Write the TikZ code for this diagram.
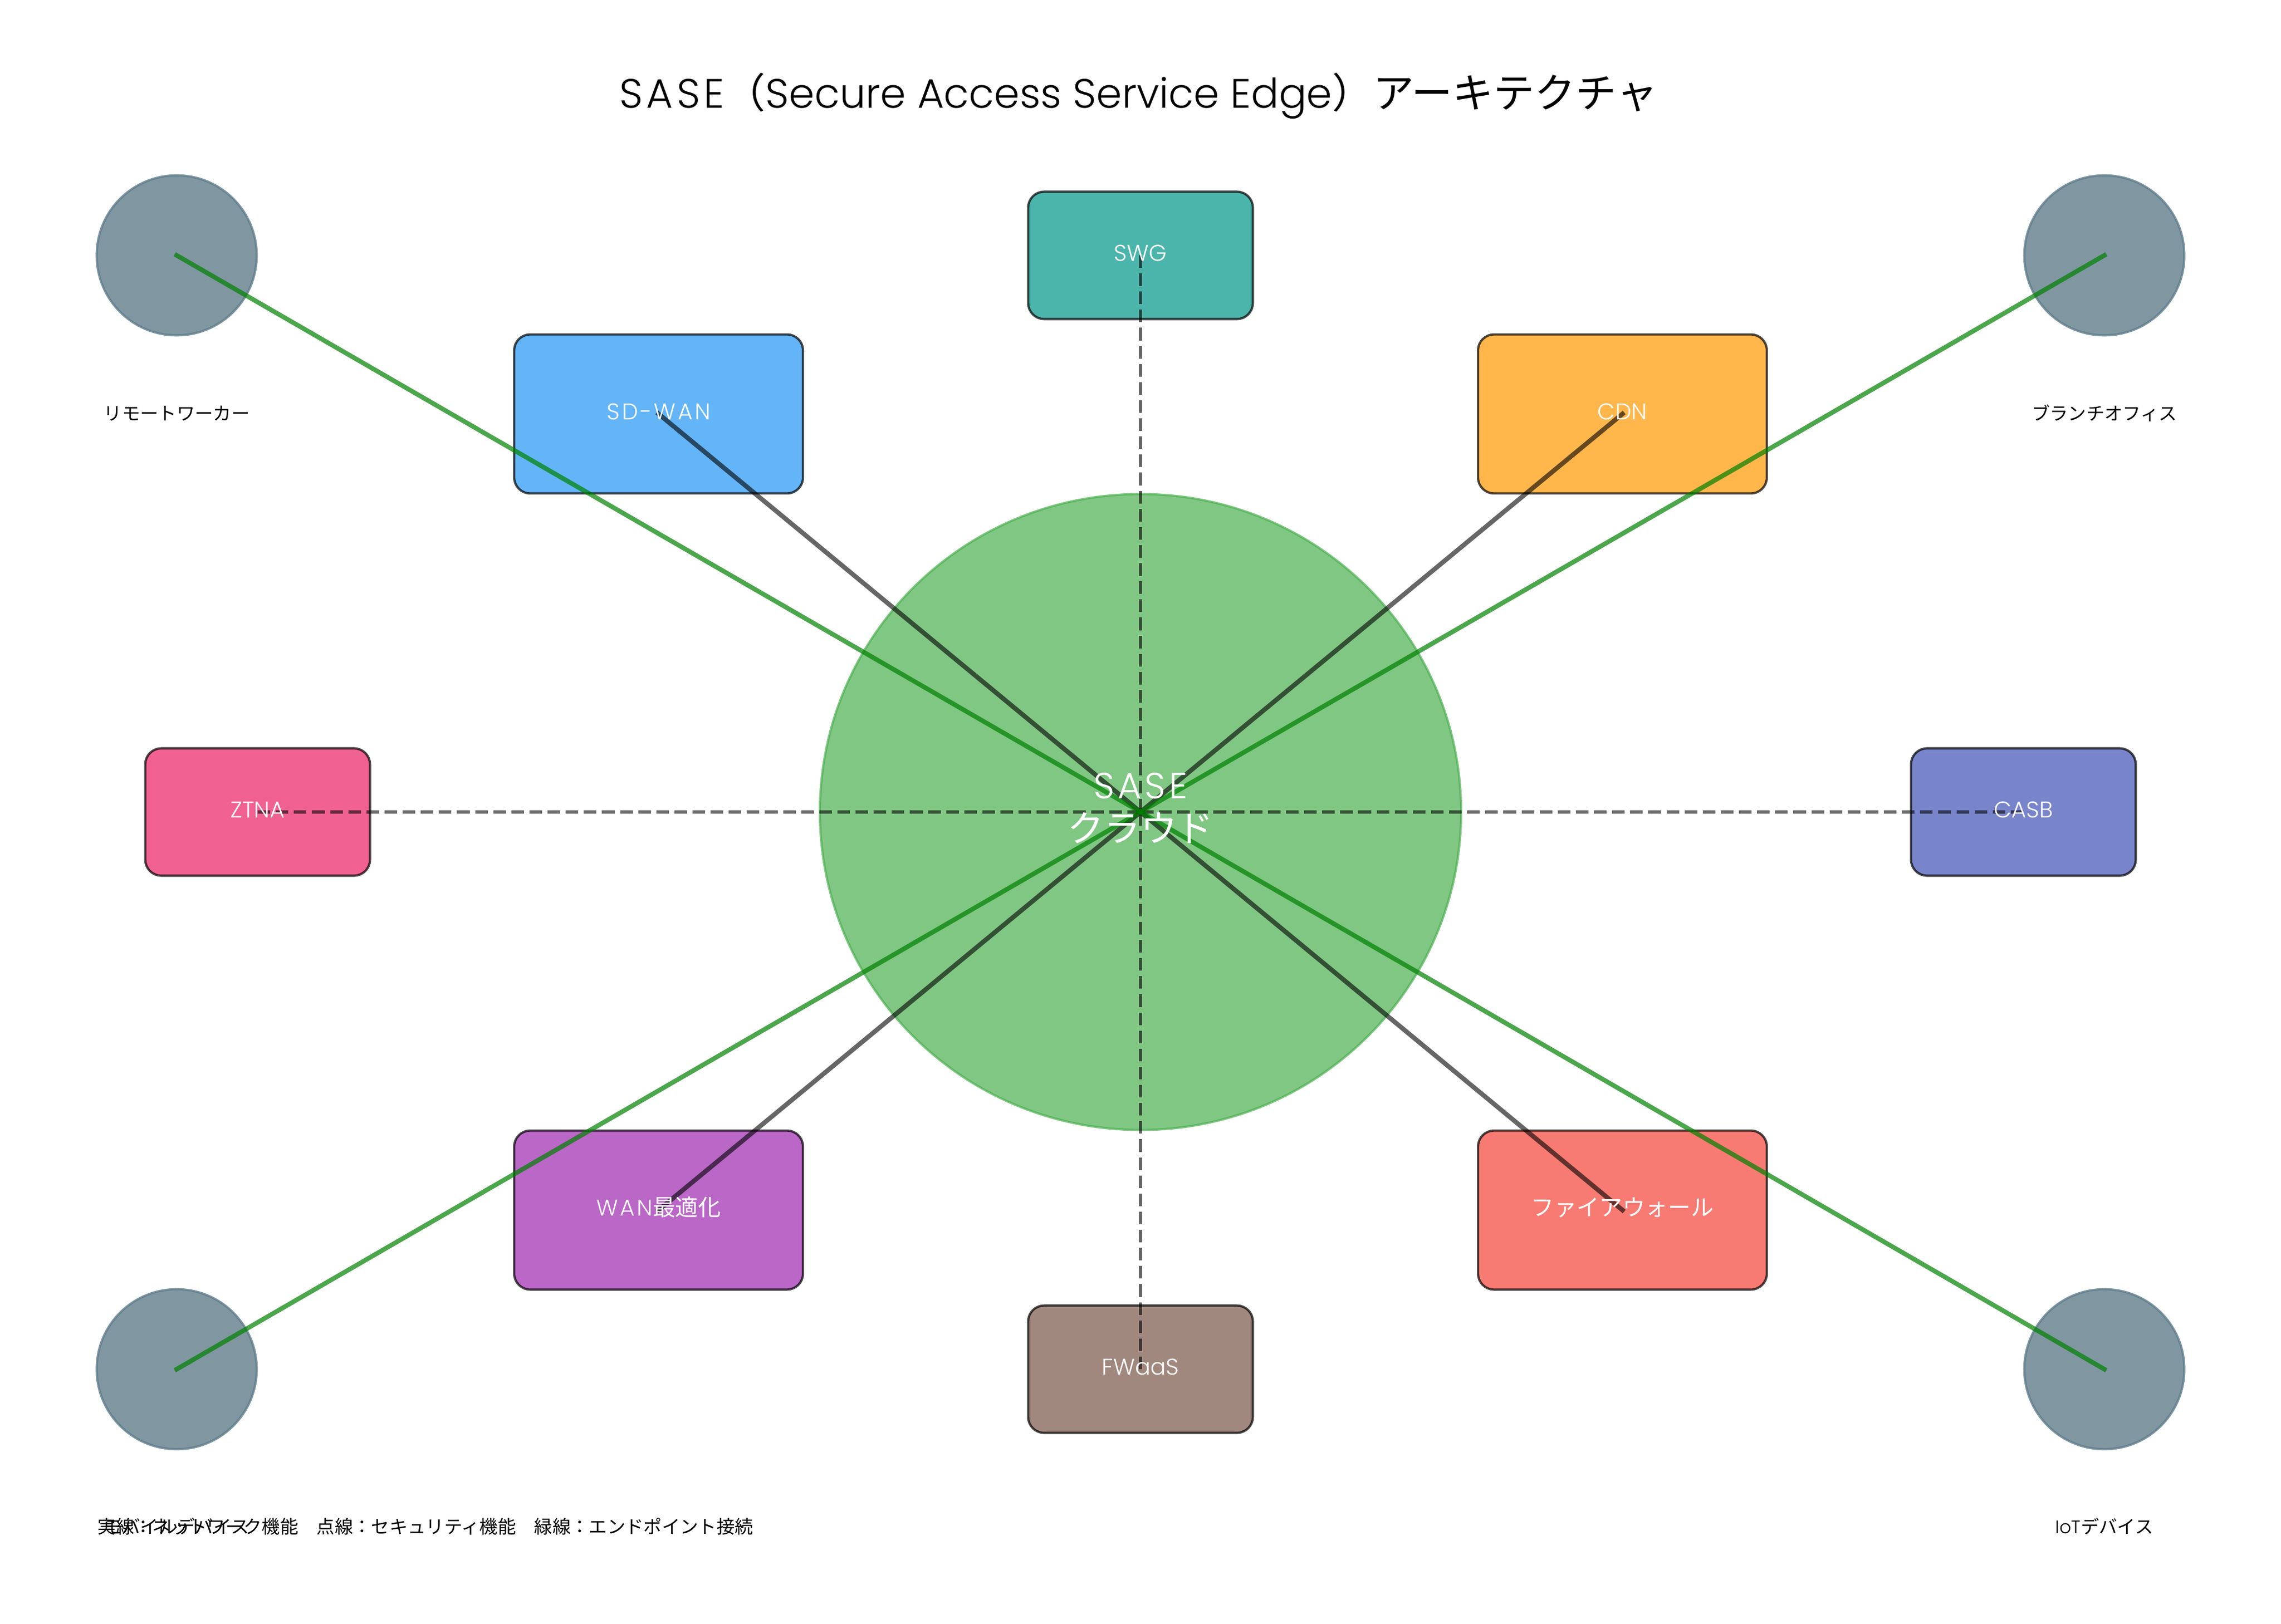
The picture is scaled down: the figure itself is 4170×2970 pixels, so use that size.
\documentclass[tikz,border=0pt]{standalone}
\usepackage{fontspec}
\setmainfont{Noto Sans CJK JP}
\newfontfamily\latinfont{Poppins Light}
\newfontfamily\capsfont{Poppins Light}[LetterSpace=9]
\usepackage{tikz}
\usetikzlibrary{shapes}
\usetikzlibrary{positioning}
\definecolor{swgcol}{HTML}{009688}
\definecolor{sdwancol}{HTML}{2196F3}
\definecolor{cdncol}{HTML}{FF9800}
\definecolor{ztnacol}{HTML}{E91E63}
\definecolor{casbcol}{HTML}{3F51B5}
\definecolor{wancol}{HTML}{9C27B0}
\definecolor{fwcol}{HTML}{F44336}
\definecolor{fwaascol}{HTML}{795548}
\definecolor{cloudcol}{HTML}{4CAF50}
\definecolor{endcol}{HTML}{607D8B}
\definecolor{linkcol}{HTML}{008000}
\tikzset{
  box/.style={rectangle,rounded corners=7pt,inner sep=0pt,draw=black,line width=1pt,draw opacity=.7,fill opacity=.7},
  smallbox/.style={box,minimum width=98.6pt,minimum height=55.9pt},
  bigbox/.style={box,minimum width=126.7pt,minimum height=69.8pt},
  endpoint/.style={circle,inner sep=0pt,minimum size=70.2pt,fill=endcol,draw=endcol,line width=1pt,fill opacity=.8,draw opacity=.8},
  netline/.style={draw=black,draw opacity=.6,line width=2pt,line cap=rect},
  secline/.style={draw=black,draw opacity=.6,line width=1.5pt,dash pattern=on 5.55pt off 2.4pt},
  endline/.style={draw=linkcol,draw opacity=.7,line width=2pt,line cap=rect},
  boxlabel/.style={text=white,inner sep=0pt,text height=.8em,text depth=.1em,yshift=1pt,font=\fontsize{10}{12}\selectfont},
  endlabel/.style={inner sep=0pt,text height=.8em,text depth=.1em,font=\fontsize{8}{10}\selectfont}
}
\begin{document}
\begin{tikzpicture}[x=.24pt,y=-.24pt]
\useasboundingbox (0,0) rectangle (4170,2970);
\node[ellipse,inner sep=0pt,minimum width=281.3pt,minimum height=279.1pt,fill=cloudcol,draw=cloudcol,line width=1pt,fill opacity=.7,draw opacity=.7] (cloud) at (2085,1485) {};
\node[smallbox,fill=swgcol] (swg) at (2085,467) {};
\node[bigbox,fill=sdwancol] (sdwan) at (1204,757) {};
\node[bigbox,fill=cdncol] (cdn) at (2966,757) {};
\node[smallbox,fill=ztnacol] (ztna) at (471,1485) {};
\node[smallbox,fill=casbcol] (casb) at (3699,1485) {};
\node[bigbox,fill=wancol] (wan) at (1204,2213) {};
\node[bigbox,fill=fwcol] (fw) at (2966,2213) {};
\node[smallbox,fill=fwaascol] (fwaas) at (2085,2504) {};
\node[endpoint] (remote) at (323,467) {};
\node[endpoint] (branch) at (3847,467) {};
\node[endpoint] (mobile) at (323,2504) {};
\node[endpoint] (iot) at (3847,2504) {};
\draw[netline] (sdwan.center) -- (cloud.center);
\draw[netline] (cdn.center) -- (cloud.center);
\draw[netline] (wan.center) -- (cloud.center);
\draw[netline] (fw.center) -- (cloud.center);
\draw[secline] (swg.center) -- (cloud.center);
\draw[secline] (ztna.center) -- (cloud.center);
\draw[secline] (casb.center) -- (cloud.center);
\draw[secline] (fwaas.center) -- (cloud.center);
\draw[endline] (remote.center) -- (cloud.center);
\draw[endline] (branch.center) -- (cloud.center);
\draw[endline] (mobile.center) -- (cloud.center);
\draw[endline] (iot.center) -- (cloud.center);
\node[boxlabel] (swglabel) at (swg) {{\latinfont SWG}};
\node[boxlabel] (sdwanlabel) at (sdwan) {{\capsfont SD-WAN}};
\node[boxlabel] (cdnlabel) at (cdn) {{\latinfont CDN}};
\node[boxlabel] (ztnalabel) at (ztna) {{\latinfont ZTNA}};
\node[boxlabel] (casblabel) at (casb) {{\latinfont CASB}};
\node[boxlabel] (wanlabel) at (wan) {{\capsfont WAN}最適化};
\node[boxlabel] (fwlabel) at (fw) {ファイアウォール};
\node[boxlabel] (fwaaslabel) at (fwaas) {{\latinfont FWaaS}};
\node[endlabel] (remotelabel) at (323,754) {リモートワーカー};
\node[endlabel] (branchlabel) at (3847,754) {ブランチオフィス};
\node[endlabel] (mobilelabel) at (323,2790) {モバイルデバイス};
\node[endlabel] (iotlabel) at (3847,2790) {{\latinfont IoT}デバイス};
\node[endlabel,anchor=west] (legend) at (178,2790) {実線：ネットワーク機能　点線：セキュリティ機能　緑線：エンドポイント接続};
\node[text=white,inner sep=0pt,align=center,font=\fontsize{16}{19}\selectfont] (cloudlabel) at (2085,1478) {{\capsfont SASE}\\クラウド};
\node[inner sep=0pt,font=\fontsize{18}{22}\selectfont] (title) at (2081,175) {{\capsfont SASE}（{\latinfont Secure Access Service Edge}）アーキテクチャ};
\end{tikzpicture}
\end{document}
